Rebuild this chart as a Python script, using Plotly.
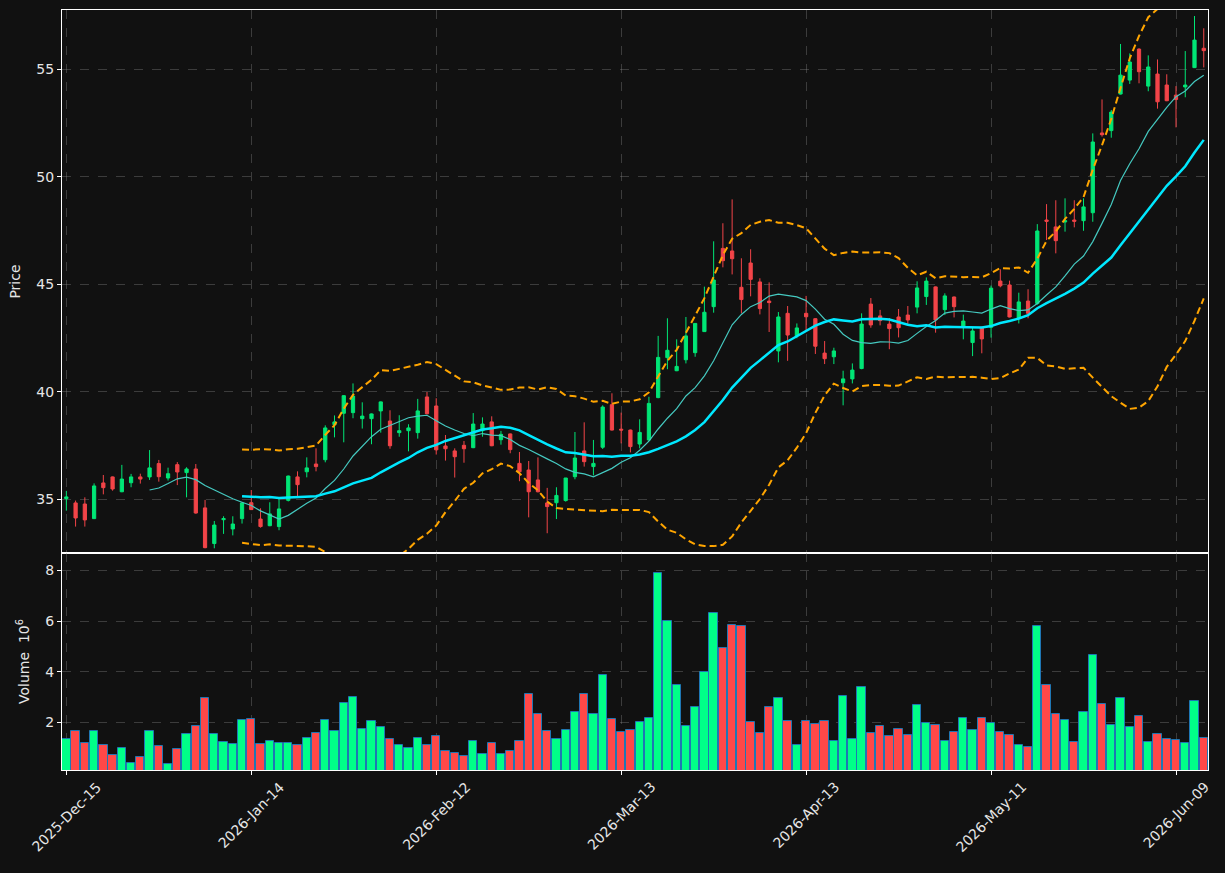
import pandas as pd
import plotly.graph_objects as go

# ---- data (prices) ----
opens = [35.03, 34.83, 34.78, 34.10, 35.76, 36.04, 35.35, 35.77, 36.04, 36.04,
         36.66, 35.99, 36.61, 36.24, 36.41, 34.60, 32.94, 34.05, 33.62, 34.10,
         34.84, 34.08, 33.77, 33.73, 34.95, 36.04, 36.28, 36.64, 36.84, 38.47,
         39.00, 39.03, 38.75, 38.75, 39.11, 38.64, 38.10, 38.19, 38.10, 39.76,
         39.34, 37.48, 37.25, 37.51, 37.40, 38.19, 38.60, 37.77, 38.04, 36.67,
         36.36, 35.90, 34.83, 34.84, 34.94, 36.05, 37.25, 36.52, 37.42, 39.40,
         38.26, 38.22, 37.57, 37.76, 39.73, 41.59, 40.98, 41.49, 41.82, 42.80,
         43.96, 46.67, 46.55, 44.86, 45.99, 45.11, 44.22, 41.90, 43.65, 42.60,
         43.65, 43.40, 41.80, 41.63, 40.42, 40.60, 41.08, 44.08, 43.53, 43.15,
         43.48, 43.57, 43.94, 44.43, 44.88, 43.82, 44.41, 43.05, 42.29, 43.00,
         43.00, 45.15, 44.97, 43.42, 44.22, 44.11, 47.99, 47.67, 47.90, 47.99,
         47.96, 48.33, 52.04, 52.15, 53.85, 54.50, 55.94, 54.22, 54.78, 54.27,
         53.80, 54.18, 55.08, 55.98]
highs = [35.39, 34.94, 35.09, 35.74, 36.13, 36.06, 36.60, 36.18, 36.19, 37.29,
         36.83, 36.47, 36.73, 36.49, 36.64, 34.97, 33.99, 34.21, 34.21, 34.86,
         35.43, 34.58, 34.86, 35.00, 36.10, 36.30, 36.95, 37.37, 38.44, 38.90,
         39.84, 40.39, 39.51, 38.99, 39.55, 39.14, 38.91, 38.49, 39.67, 39.99,
         39.70, 37.99, 37.37, 37.71, 39.01, 38.81, 38.86, 38.18, 38.06, 37.20,
         36.78, 36.95, 35.53, 35.56, 35.99, 38.13, 38.58, 37.76, 39.37, 39.93,
         39.03, 38.24, 38.72, 39.77, 42.60, 43.42, 42.44, 43.48, 43.18, 44.89,
         47.00, 47.84, 48.95, 46.21, 46.63, 45.28, 45.09, 43.71, 43.99, 43.18,
         44.46, 43.42, 42.36, 42.05, 40.98, 41.32, 43.65, 44.36, 43.81, 43.43,
         43.85, 43.99, 45.14, 45.32, 44.90, 44.58, 44.43, 43.59, 43.00, 43.03,
         44.94, 45.70, 45.17, 44.61, 44.77, 47.80, 48.73, 48.91, 49.00, 48.91,
         49.00, 52.02, 53.60, 53.11, 56.18, 55.74, 55.98, 55.65, 55.46, 54.77,
         54.22, 55.85, 57.48, 56.91]
lows = [34.47, 33.73, 33.73, 34.08, 35.23, 35.40, 35.33, 35.56, 35.73, 35.90,
        35.82, 35.87, 35.66, 35.09, 34.33, 32.72, 32.72, 33.39, 33.32, 33.87,
        34.50, 33.68, 33.75, 33.56, 34.90, 35.12, 36.02, 36.30, 36.72, 37.88,
        37.65, 38.77, 38.29, 37.56, 38.10, 37.35, 37.91, 37.23, 37.82, 38.95,
        37.08, 36.80, 36.01, 36.70, 37.38, 37.91, 37.47, 37.54, 37.14, 35.84,
        34.16, 35.32, 33.42, 34.08, 34.89, 35.93, 36.52, 36.11, 37.34, 38.20,
        37.60, 37.18, 37.37, 37.72, 39.70, 41.05, 40.96, 41.32, 41.63, 42.78,
        43.68, 45.79, 45.46, 43.65, 44.44, 43.60, 42.78, 41.37, 41.44, 42.49,
        42.87, 41.76, 41.29, 41.29, 39.37, 40.39, 41.05, 42.98, 43.09, 41.98,
        42.53, 43.15, 43.65, 44.04, 42.75, 43.57, 43.46, 42.44, 41.66, 41.79,
        42.52, 44.86, 43.46, 43.18, 43.42, 44.05, 47.06, 46.44, 47.45, 47.65,
        47.49, 47.91, 51.87, 51.82, 53.83, 54.32, 54.35, 53.98, 53.17, 53.52,
        52.30, 53.70, 55.06, 55.09]
closes = [35.11, 34.13, 34.04, 35.62, 35.54, 35.48, 35.94, 36.04, 35.94, 36.46,
          36.05, 36.19, 36.27, 36.41, 34.36, 32.75, 33.80, 34.10, 33.85, 34.83,
          34.52, 33.73, 34.32, 34.55, 36.08, 35.68, 36.46, 36.52, 38.32, 38.60,
          39.82, 39.80, 38.87, 38.97, 39.53, 37.49, 38.19, 38.32, 39.11, 38.98,
          37.30, 37.35, 36.98, 37.35, 38.50, 38.50, 37.49, 38.02, 37.31, 36.28,
          35.35, 35.35, 34.66, 35.18, 35.99, 36.92, 36.75, 36.67, 39.29, 38.22,
          38.22, 37.45, 38.11, 39.46, 41.60, 41.93, 41.18, 42.60, 43.18, 43.70,
          45.20, 46.10, 46.19, 44.29, 45.23, 43.87, 44.15, 43.48, 42.64, 42.97,
          43.49, 42.12, 41.54, 41.90, 40.60, 41.01, 43.15, 43.11, 43.31, 42.94,
          42.98, 43.34, 44.83, 45.15, 43.34, 44.46, 43.96, 43.29, 42.83, 42.46,
          44.82, 44.93, 43.48, 44.18, 43.65, 47.48, 47.93, 47.03, 47.96, 47.93,
          48.60, 51.62, 51.96, 53.01, 54.73, 55.34, 54.89, 55.11, 53.49, 53.54,
          53.60, 54.27, 56.36, 55.87]
# volume in millions of shares
volumes = [1.345, 1.66, 1.20, 1.66, 1.11, 0.715, 0.99, 0.40, 0.64, 1.66,
           1.07, 0.36, 0.95, 1.54, 1.86, 2.96, 1.54, 1.23, 1.15, 2.09,
           2.13, 1.15, 1.27, 1.19, 1.19, 1.11, 1.38, 1.58, 2.09, 1.66,
           2.76, 3.00, 1.74, 2.05, 1.82, 1.345, 1.11, 0.99, 1.38, 1.11,
           1.46, 0.87, 0.79, 0.68, 1.27, 0.75, 1.19, 0.75, 0.87, 1.27,
           3.12, 2.33, 1.66, 1.345, 1.70, 2.41, 3.12, 2.33, 3.87, 2.13,
           1.62, 1.70, 2.01, 2.17, 7.88, 5.99, 3.47, 1.86, 2.61, 3.98,
           6.31, 4.93, 5.83, 5.79, 2.01, 1.58, 2.61, 2.96, 2.05, 1.11,
           2.05, 1.94, 2.05, 1.27, 3.04, 1.345, 3.39, 1.58, 1.86, 1.46,
           1.74, 1.50, 2.68, 1.975, 1.90, 1.27, 1.62, 2.17, 1.70, 2.17,
           1.975, 1.62, 1.50, 1.11, 1.03, 5.79, 3.47, 2.33, 2.09, 1.23,
           2.41, 4.65, 2.72, 1.90, 2.96, 1.82, 2.25, 1.23, 1.54, 1.345,
           1.31, 1.19, 2.84, 1.38]
tick_positions = [0, 20, 40, 60, 80, 100, 120]
tick_labels = ["2025-Dec-15", "2026-Jan-14", "2026-Feb-12", "2026-Mar-13",
               "2026-Apr-13", "2026-May-11", "2026-Jun-09"]

# ---- derived indicators ----
n = len(closes)
idx = list(range(n))
cs = pd.Series(closes)
ma10 = cs.rolling(10).mean()
ma20 = cs.rolling(20).mean()
sd20 = cs.rolling(20).std()
upper = ma20 + 2 * sd20
lower = ma20 - 2 * sd20

UP = "#00e676"
DOWN = "#f24448"
VUP = "#00ff88"
VDOWN = "#ff4848"
BG = "#111111"
GRID = "rgba(140,140,140,0.35)"
TXT = "#e6e6e6"

vol_colors = [VUP if c >= o else VDOWN for o, c in zip(opens, closes)]

fig = go.Figure()
fig.add_trace(go.Candlestick(
    x=idx, open=opens, high=highs, low=lows, close=closes,
    increasing=dict(line=dict(color=UP, width=1), fillcolor=UP),
    decreasing=dict(line=dict(color=DOWN, width=1), fillcolor=DOWN),
    whiskerwidth=0, xaxis="x", yaxis="y", hoverinfo="skip", showlegend=False))
fig.add_trace(go.Scatter(x=idx, y=ma10, mode="lines",
                         line=dict(color="#45c9c0", width=1.2),
                         xaxis="x", yaxis="y", showlegend=False))
fig.add_trace(go.Scatter(x=idx, y=ma20, mode="lines",
                         line=dict(color="#00e8ff", width=2.5),
                         xaxis="x", yaxis="y", showlegend=False))
for band in (upper, lower):
    fig.add_trace(go.Scatter(x=idx, y=band, mode="lines",
                             line=dict(color="#ffa500", width=2, dash="7px,4px"),
                             xaxis="x", yaxis="y", showlegend=False))
fig.add_trace(go.Bar(x=idx, y=volumes, width=0.9,
                     marker=dict(color=vol_colors, line=dict(color="#1f77b4", width=1)),
                     xaxis="x2", yaxis="y2", showlegend=False))

xr = [-0.47, 123.46]
split = 0.2855
common_axis = dict(showline=True, mirror=True, linecolor="white", linewidth=1.3,
                   showgrid=True, gridcolor=GRID, griddash="dash", gridwidth=1,
                   zeroline=False, tickfont=dict(size=14, color=TXT),
                   tickcolor="white", ticklen=4, tickwidth=1)

# rotated date labels centred under their ticks (matplotlib style)
annotations = [
    dict(x=p, y=0, xref="x2", yref="paper", text=t, textangle=-45,
         showarrow=False, xanchor="center", yanchor="top", yshift=-6,
         font=dict(size=14, color=TXT, family="DejaVu Sans"))
    for p, t in zip(tick_positions, tick_labels)
]

fig.update_layout(
    width=1225, height=873,
    paper_bgcolor=BG, plot_bgcolor=BG,
    margin=dict(l=62, r=17, t=10, b=103),
    font=dict(family="DejaVu Sans", size=14, color=TXT),
    boxgap=0.5,
    bargap=0,
    showlegend=False,
    annotations=annotations,
    xaxis=dict(common_axis, domain=[0, 1], range=xr, anchor="y",
               tickvals=tick_positions, showticklabels=False, ticks="",
               rangeslider=dict(visible=False)),
    yaxis=dict(common_axis, domain=[split, 1], range=[32.50, 57.76], anchor="x",
               tickvals=[35, 40, 45, 50, 55], ticks="outside",
               title=dict(text="Price", font=dict(size=14, color=TXT), standoff=12)),
    xaxis2=dict(common_axis, domain=[0, 1], range=xr, anchor="y2", matches="x",
                tickvals=tick_positions, showticklabels=False,
                ticks="outside"),
    yaxis2=dict(common_axis, domain=[0, split], range=[0.126, 8.68], anchor="x2",
                tickvals=[2, 4, 6, 8], ticks="outside",
                title=dict(text="Volume  10<sup>6</sup>", font=dict(size=14, color=TXT),
                           standoff=12)),
)

fig.write_html("out.html")
